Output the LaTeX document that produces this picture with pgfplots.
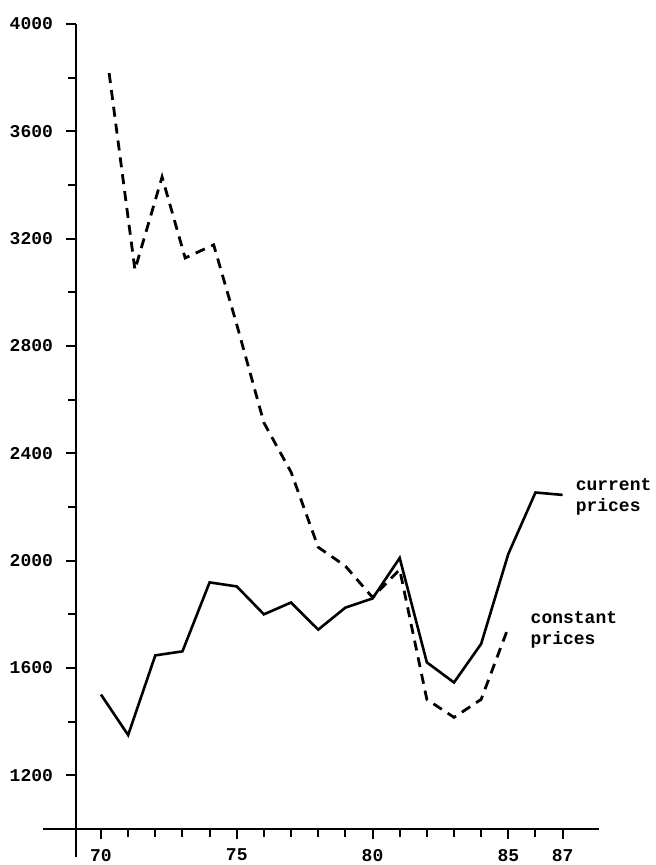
\documentclass[border=0pt]{standalone}
\usepackage{fontspec}
\setmainfont{Liberation Mono}
\usepackage{pgfplots}
\pgfplotsset{compat=1.18}
\begin{document}
\begin{tikzpicture}
\begin{axis}[name=ax, scale only axis, width=261.5pt, height=402.5pt,
  xmin=69.08, xmax=88.34, ymin=1000, ymax=4000,
  axis lines=left,
  axis line style={-, line width=1.2pt},
  x axis line style={shorten <=-16.5pt},
  y axis line style={shorten <=-14pt},
  xtick={70,75,80,85,87},
  xticklabels={70,75,80,85,87},
  minor xtick={71,72,73,74,76,77,78,79,81,82,83,84,86},
  ytick={1200,1600,2000,2400,2800,3200,3600,4000},
  minor ytick={1400,1800,2200,2600,3000,3400,3800},
  tick align=outside,
  major tick length=5pt, minor tick length=3.8pt,
  every tick/.style={line width=1pt, black},
  /pgf/number format/assume math mode=true,
  ticklabel style={font=\fontsize{9}{10}\selectfont\bfseries},
  y tick label style={/pgf/number format/1000 sep={}, xshift=-3pt},
  x tick label style={yshift=-1.5pt},
  clip=false,
]
% current prices (solid)
\addplot[black, line width=1.3pt] coordinates {
 (70,1501) (71,1350) (72,1647) (73,1662) (74,1919) (75,1904) (76,1800)
 (77,1844) (78,1743) (79,1825) (80,1859) (81,2010) (82,1621) (83,1546)
 (84,1690) (85,2025) (86,2254) (87,2245)
};
% constant prices (dashed)
\addplot[black, line width=1.4pt, dash pattern=on 5pt off 3.5pt] coordinates {
 (70.3,3817) (71.25,3084) (72.25,3430) (73.1,3128) (74.15,3177) (75,2880)
 (76,2514) (77,2330) (78,2050) (79,1980) (80,1863) (81,1967) (82,1483)
 (83,1416) (84,1483) (85,1751)
};
\node[anchor=west, align=left, inner sep=0pt, font=\fontsize{9}{10.5}\selectfont\bfseries] at (axis cs:87.47,2239) {current\\prices};
\node[anchor=west, align=left, inner sep=0pt, font=\fontsize{9}{10.5}\selectfont\bfseries] at (axis cs:85.81,1742) {constant\\prices};
\end{axis}
\pgfresetboundingbox
\path ([xshift=-38pt,yshift=-18pt]ax.south west) rectangle ([xshift=28.5pt,yshift=12pt]ax.north east);
\end{tikzpicture}
\end{document}
